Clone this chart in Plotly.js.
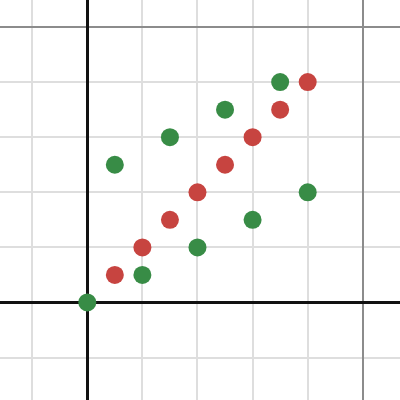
<!DOCTYPE html>
<html><head><meta charset="utf-8">
<script src="https://cdn.plot.ly/plotly-3.0.1.min.js"></script>
<style>html,body{margin:0;padding:0;background:#fff}#chart{width:400px;height:400px}</style>
</head><body><div id="chart"></div>
<script>
const redX = [0.5, 1, 1.5, 2, 2.5, 3, 3.5, 4];
const redY = [0.5, 1, 1.5, 2, 2.5, 3, 3.5, 4];
const greenX = [0, 1, 2, 3, 4, 0.5, 1.5, 2.5, 3.5];
const greenY = [0, 0.5, 1, 1.5, 2, 2.5, 3, 3.5, 4];

const traces = [
  {x: redX, y: redY, mode: 'markers', type: 'scatter', name: 'red',
   marker: {color: '#c74440', size: 18}},
  {x: greenX, y: greenY, mode: 'markers', type: 'scatter', name: 'green',
   marker: {color: '#388c46', size: 18}}
];
const axisCommon = {
  dtick: 5, tick0: 0, showticklabels: false, ticks: '',
  showgrid: true, gridcolor: '#8c8c8c', gridwidth: 2,
  minor: {dtick: 1, tick0: 0, showgrid: true, gridcolor: '#dedede', gridwidth: 2},
  zeroline: true, zerolinecolor: '#111111', zerolinewidth: 3,
  showline: false, fixedrange: true
};
const layout = {
  width: 400, height: 400,
  margin: {l: 0, r: 0, t: 0, b: 0},
  paper_bgcolor: '#ffffff', plot_bgcolor: '#ffffff',
  showlegend: false,
  xaxis: Object.assign({}, axisCommon, {range: [-1.584, 5.675]}),
  yaxis: Object.assign({}, axisCommon, {range: [-1.77, 5.49]})
};
Plotly.newPlot('chart', traces, layout, {displayModeBar: false, staticPlot: true});
</script></body></html>
